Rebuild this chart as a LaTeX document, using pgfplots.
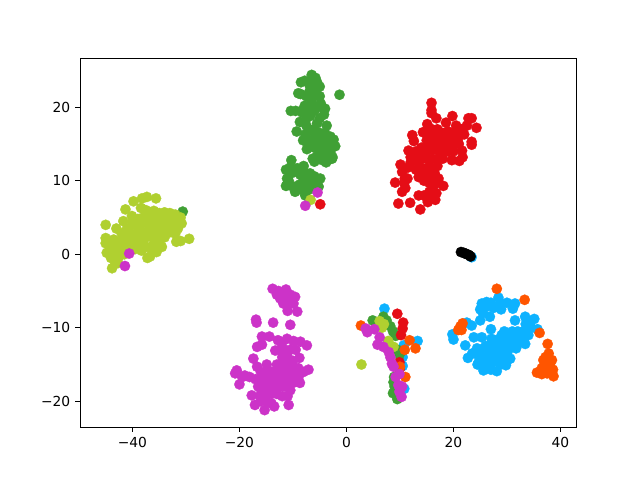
\documentclass[border=0pt]{standalone}
\usepackage{pgfplots}
\pgfplotsset{compat=1.18}
\usepackage{fontspec}
\setmainfont{DejaVu Sans}
\definecolor{cblue}{HTML}{0DB2FF}
\definecolor{cgreen}{HTML}{40A035}
\definecolor{clime}{HTML}{B0D030}
\definecolor{cred}{HTML}{E50D16}
\definecolor{corange}{HTML}{FF5500}
\definecolor{cmag}{HTML}{CC33C8}
\pgfplotsset{dots/.style={only marks, color=#1, mark=*, mark size=3.75pt, mark options={solid, line width=0.2pt, draw=#1, fill=#1}}}
\begin{document}
\begin{tikzpicture}
\begin{axis}[
    scale only axis,
    width=4.96in,
    height=3.69in,
    xmin=-49.8, xmax=42.9,
    ymin=-23.5, ymax=26.7,
    xtick={-40,-20,0,20,40},
    xticklabels={−40,−20,0,20,40},
    ytick={-20,-10,0,10,20},
    yticklabels={−20,−10,0,10,20},
    tick pos=lower,
    tick align=outside,
    major tick length=3.5pt,
    axis line style={line width=0.6pt},
    every tick/.style={black, line width=0.6pt},
    tick label style={font=\fontsize{10}{12}\selectfont},
    clip=false,
]
% blue
\addplot[dots=cblue] coordinates {
(19.8,-10.9) (20,-11.6) (23.4,-9.7) (22.5,-9.3) (25,-9) (25.3,-6.7) (27,-6.6) (28.4,-5.9)
(30,-6.6) (31.5,-6.7) (31.1,-7.4) (28.9,-7.5) (26.8,-8.5) (33.4,-8.5) (35.1,-8.8) (31.5,-9)
(34,-9.4) (35.7,-10.2) (34,-11) (33.4,-12.2) (31.7,-12.8) (27,-10.2) (25.3,-11.3) (23.8,-11.3)
(22.2,-12.4) (22.7,-14.1) (24.4,-12.8) (27.1,-11.5) (25.6,-15.8) (28.1,-15.9) (29.8,-15.1) (30.6,-14.2)
(24.7,-14.7) (25,-7.5) (26,-7.2) (27.5,-7.3) (25.5,-8) (33.5,-9.5) (34.5,-10) (33,-10.5)
(32,-10.5) (31,-10.5) (30,-11) (29,-11) (28,-11.7) (27,-12.2) (26,-12.5) (25,-13) (32.5,-11.5)
(31,-11.5) (30,-12) (29,-12.5) (28,-13) (27,-13.5) (26,-14) (25,-14) (24,-13.5) (31,-12.5)
(30,-13.5) (29,-14) (28,-14.5) (27,-15) (26,-15) (29,-13) (27.5,-14.5) (23.5,-13.5) (29.5,-10.5)
(29,-11.6) (30.5,-12.8) (28.5,-13.7) (26.5,-13) (25.5,-14.5) (24.5,-15) (27,-15.7) (26.3,-15.5)
(28.8,-15) (30,-14.5) (32.3,-12) (33,-11.3) (28.8,-6.7) (26.2,-6.5) (24.9,-13.6)
(7.1,-7.4) (13.3,-11.8) (10.7,-12.4) (10.5,-14) (10.5,-15.2) (10.8,-18.3) (23.4,-0.4)
};
% green
\addplot[dots=cgreen] coordinates {
(-6.5,24.4) (-7.8,23.6) (-8.5,23.4) (-5.5,23.4) (-5,22.8) (-6.8,22.8) (-6,22.2) (-8.6,21.8)
(-9,21.9) (-7.5,21.5) (-6,21.5) (-5,21.5) (-4.8,20.5) (-6.5,20.7) (-7.8,20.2) (-5.4,20)
(-8.2,19.6) (-6,19.5) (-4.2,19) (-10.4,19.5) (-9.5,19.5) (-8.3,19.3) (-4,19.8) (-7.5,18.5)
(-5,18.5) (-8.7,18) (-7.5,17.5) (-6,17) (-5.5,17.8) (-3.7,17.5) (-9.3,16.7) (-7.7,16.3)
(-8.1,15.5) (-6,16.5) (-5,16.5) (-4,16.5) (-3,16) (-5.5,15.5) (-4.5,15.5) (-3.5,15.5)
(-2.1,14.7) (-2.6,13.2) (-3,13.8) (-5,14.5) (-4,14.5) (-6,14.5) (-7.4,14.3) (-6.3,13)
(-5.5,13.3) (-4.5,12.8) (-3.5,12.8) (-2.7,13) (-4.5,13.5) (-6,12.6) (-3.8,12.5) (-2.4,15.6) (-1.3,21.7)
(-7,19.8) (-6.8,18.8) (-7,22) (-5.8,24) (-6.5,23.5) (-3,14.7) (-6.8,15.5) (-5,13) (-7,17) (-7,15)
(-10.3,12.8) (-11.3,11.5) (-8,12) (-9.2,11.7) (-11.1,10.3) (-11.3,9.3) (-4.9,10.3) (-5.2,9.2)
(-9.6,8.5) (-7.7,8) (-6.8,11) (-10.4,11) (-10.3,9.3) (-8.7,9.5) (-8,10.5) (-7.5,9.5) (-7,8.8)
(-6.3,9.7) (-6,9) (-8.5,8.8) (-8.6,10.8) (-7.5,11) (-6,10.6) (-30.6,5.8)
(-9.5,9.2) (-10.8,10) (-10.5,11.8) (-9.7,11.2) (-8.3,11.3) (-7,10) (-5.5,9.8)
(4.9,-9) (6.9,-8.5) (8.2,-9.8) (9.2,-11.1) (9.9,-13.7) (8.8,-17.4) (8.7,-18.9) (9.5,-19.7) (8.9,-16.7)
(7.5,-9) (8.7,-10.5) (9.5,-13) (9,-18) (9.8,-19.2)
};
% lime
\addplot[dots=clime] coordinates {
(-35.6,7.6) (-37.3,7.8) (-38.2,7.6) (-39.8,7.2) (-41.3,6.1) (-38.4,6.3) (-40.1,5.2) (-41.7,4.5)
(-45,4) (-29.4,2.1) (-31,1.8) (-31.8,1.7) (-37.2,-0.5) (-36.7,-0.3)
(-45,2.2) (-45,1.5) (-44.8,0.2) (-44,0.7) (-44,-0.5) (-43.8,-1.9) (-43.3,-1) (-43,0.5) (-43.5,2)
(-42.5,1) (-42.5,-0.3) (-42,2.8) (-41.5,0) (-41,1.5) (-40.5,3) (-40,2) (-39.5,0.7) (-39,3)
(-38.5,2) (-38.5,4) (-37.5,1) (-37,2.5) (-36,1.5) (-35.5,0.3) (-43,3.5) (-41,3.5) (-40,4.3) (-39,4.8)
(-36,5.9) (-35,5.6) (-34,5.7) (-33,5.6) (-32,5.4) (-31,5) (-30.8,4.2) (-31.5,3.5) (-32,2.8)
(-37,5) (-36,5) (-35,5) (-34,5) (-33,5) (-32,4.5) (-37,4) (-36,4) (-35,4) (-34,4) (-33,4) (-32,3.8)
(-37,3) (-36,3) (-35,3) (-34,3) (-33,3) (-36,2.2) (-35,2.2) (-34,2.3) (-35,1.5) (-34.5,1)
(-44,1.5) (-43,1.3) (-42,1.8) (-41.8,0.8) (-40.8,0.7) (-40,1) (-39,1.5) (-38.3,0.5) (-38,3)
(-41,2.5) (-39.5,4) (-38,5) (-37.5,6) (-43.5,-0.2) (-42.7,-1.2) (-37.8,2) (-36.5,0.8)
(6.2,-9.1) (6.6,-10) (7.8,-11.8) (8.8,-12.6) (2.8,-15) (7,-9.5)
(-6.7,7.4)
};
% red
\addplot[dots=cred] coordinates {
(15.9,20.6) (15.9,19.6) (15.9,19.2) (16.8,18.5) (19.8,18.8) (22.8,18.5) (23.4,18.5) (24.3,17.2)
(18.6,17.9) (15.1,17.7) (12.3,16.2) (12.6,15.4) (14.3,16.6) (11.6,14.1) (23.4,15.3) (23.4,14.9)
(21.6,14.1) (21.7,13.2) (21.1,12.7) (19.7,12.8) (10.1,12.2) (10.4,11.2) (9.1,9.75) (11.4,10.3)
(10.4,8.5) (11.9,7) (9.7,6.9) (13.8,6.1) (13.5,8) (15.2,7.1) (16.6,7.4) (16.8,8.3) (18.1,9.3) (17.2,10.3)
(20.5,17.5) (21.5,17) (22.5,17.5) (22,16.3) (21,16) (20,16.5) (19,16.7) (18,16.5) (17,17) (16,17)
(21,15) (20,15) (19,15) (18,15.5) (17,15.5) (16,15.5) (15,15.5) (20,14) (19,14) (18,14) (17,14.2)
(16,14.2) (15,14) (14,14.5) (13,14) (18,13) (17,13) (16,13) (15,13) (14,13) (13,12.7) (12,12.5) (17,12)
(15.5,12) (14,11.8) (13,11.5) (11.5,11.8) (16.5,11) (15,11) (13.5,10.5) (14.5,10) (15.5,9.7) (16.5,9.5)
(15.5,8.5) (14.5,8) (11,9) (-4.9,6.8)
(19.5,16) (20.5,15.5) (18.5,14.5) (17.5,14.7) (16.5,14.7) (15.5,14.7) (14.5,13.5) (13.5,13.4)
(12.5,13.4) (12,13.2) (16,16.2) (17.5,16.2) (14.8,16.5) (15.5,11.5) (16,10.5) (14.2,11) (10.8,9.7)
(10.9,10.3) (16,8) (15,7.7)
(9.5,-8.1) (10.6,-9.3) (10.5,-10.1) (10.2,-11) (9.9,-14.7) (9.9,-15.7)
};
% orange
\addplot[dots=corange] coordinates {
(28.1,-4.7) (33.3,-6.2) (36.1,-10.7) (21.7,-9.4) (20.9,-10.3) (21.5,-10.3) (21.3,-9.8)
(37.6,-12.2) (37.8,-13.5) (38.4,-14.4) (36.8,-14.4) (35.6,-16.1) (36.5,-16.3) (38.7,-16.6)
(37.5,-15.8) (38.6,-15.7) (37.5,-14.9) (37,-15.5) (37.5,-16.2) (38,-15) (37.2,-14) (36.5,-15.5) (38,-16.2)
(2.7,-9.7) (11.8,-11.7) (10.9,-13) (12.9,-12.8) (10,-15.3) (11,-16.7)
};
% black
\addplot[dots=black] coordinates {
(21.4,0.3) (21.9,0.2) (22.2,0.1) (22.5,0) (22.9,-0.1) (23.2,-0.3)
};
% magenta
\addplot[dots=cmag] coordinates {
(-13.8,-4.7) (-12.7,-5) (-11.3,-4.8) (-12.4,-6) (-9.6,-5.8) (-9.9,-6.7) (-11,-7.7) (-9.2,-7.8)
(-11.5,-5.5) (-10.8,-6.2) (-11,-6.8) (-16.9,-8.9) (-16.8,-9.3) (-13.7,-9.3) (-10.5,-9.6)
(-15.8,-11.2) (-14.4,-11.2) (-16.7,-12.6) (-15.8,-12.3) (-12.8,-11.7) (-11.1,-11.5) (-7.4,-12.4)
(-8.6,-11.9) (-9.9,-11.8) (-13.3,-13.1) (-17.4,-14.2) (-8.8,-14.1) (-7.1,-15.7) (-20.5,-15.8)
(-20.8,-16.2) (-20,-17.7) (-18.1,-16.7) (-8.7,-17.5) (-17.7,-19.2) (-17.1,-20.5) (-15.3,-21.2)
(-13.5,-20.7) (-10.8,-20.5) (-16.7,-15.3) (-14.9,-15) (-19,-16.5)
(-12.5,-13) (-11.5,-13) (-10.5,-13) (-12,-14) (-11,-14) (-10,-14.5) (-13,-15) (-12,-15) (-11,-15)
(-10,-15.5) (-9,-15.5) (-8,-16) (-16,-16) (-15,-16) (-14,-16) (-13,-16) (-12,-16) (-11,-16) (-10,-16.5)
(-17,-17) (-16,-17) (-15,-17) (-14,-17) (-13,-17) (-12,-17) (-11,-17) (-10,-17.5) (-9,-16.8)
(-16.5,-18) (-15.5,-18) (-14.5,-18) (-13.5,-18) (-12.5,-18) (-11.5,-18) (-10.5,-18.5)
(-16,-19) (-15,-19) (-14,-19) (-13,-19) (-12,-19.3) (-11,-19.3)
(-16,-20) (-15,-20) (-14,-20.3) (-12,-12) (-9.5,-13)
(-13,-5.5) (-12,-5.2) (-10.5,-5.5) (-11.8,-6.7) (-16,-19.5) (-19.5,-16.7)
(3.6,-10.1) (3.9,-10.6) (5.2,-10.2) (6.2,-11.3) (5.8,-12.3) (6.9,-12.6) (7.9,-13.3) (8.2,-14)
(8.5,-14.9) (8.8,-15.3) (9.9,-16.3) (9.2,-16.7) (9.7,-17.8) (10.4,-18) (9.9,-18.7) (10.3,-19.4)
(-5.4,8.4) (-7.7,6.6) (-41.4,-1.6) (-40.6,0.1)
};
\path[use as bounding box] (rel axis cs:0,0) ++(-0.8in,-0.53in) rectangle ++(6.4in,4.8in);
\end{axis}
\end{tikzpicture}
\end{document}
